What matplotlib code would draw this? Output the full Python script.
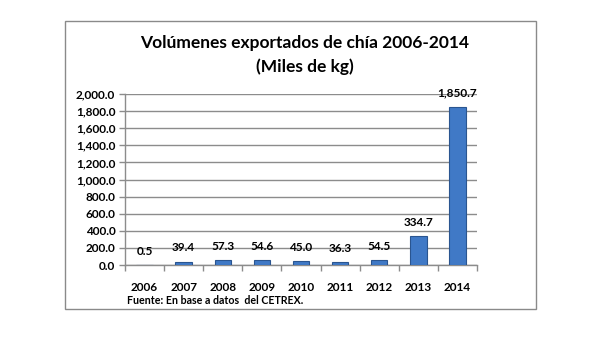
import matplotlib
matplotlib.use("Agg")
import matplotlib.pyplot as plt
from matplotlib.patches import Rectangle
from matplotlib.ticker import FuncFormatter, FixedLocator
import numpy as np

years = ["2006", "2007", "2008", "2009", "2010", "2011", "2012", "2013", "2014"]
values = [0.5, 39.4, 57.3, 54.6, 45.0, 36.3, 54.5, 334.7, 1850.7]
title = "Volúmenes exportados de chía 2006-2014\n(Miles de kg)"
source = "Fuente: En base a datos  del CETREX."

W, H = 609, 352
fig = plt.figure(figsize=(W / 100, H / 100), dpi=100)
fig.patch.set_facecolor("white")
font = "Lato"

# outer frame
fig.patches.append(Rectangle((65 / W, 1 - 309 / H), (536 - 65) / W, (309 - 21) / H,
                             transform=fig.transFigure, fill=False,
                             edgecolor="#8a8a8a", linewidth=1.0))

ax = fig.add_axes([125 / W, 1 - 265 / H, (477 - 125) / W, (265 - 94) / H])
x = np.arange(len(years))
bars = ax.bar(x, values, width=0.42, color="#4079C6", edgecolor="#2A5590", linewidth=0.8, zorder=3)

ax.set_xlim(-0.5, len(years) - 0.5)
ax.set_ylim(0, 2000)
ax.yaxis.set_major_locator(FixedLocator(np.arange(0, 2001, 200)))
ax.yaxis.set_major_formatter(FuncFormatter(lambda v, p: f"{v:,.1f}"))
ax.grid(axis="y", color="#8c8c8c", linewidth=1.0, zorder=0)
ax.set_axisbelow(True)

ax.set_xticks(x)
ax.set_xticklabels(years)
ax.xaxis.set_minor_locator(FixedLocator(np.arange(-0.5, len(years), 1.0)))
ax.tick_params(axis="x", which="major", length=0, pad=12)
ax.tick_params(axis="x", which="minor", length=4, color="#8c8c8c", width=1)
ax.tick_params(axis="y", length=4, color="#8c8c8c", width=1, pad=3)

for lab in ax.get_xticklabels() + ax.get_yticklabels():
    lab.set_fontfamily(font)
    lab.set_fontweight("bold")
    lab.set_fontsize(8.5)

for s in ["top", "right"]:
    ax.spines[s].set_visible(False)
for s in ["left", "bottom"]:
    ax.spines[s].set_color("#8c8c8c")
    ax.spines[s].set_linewidth(1)

for xi, v in zip(x, values):
    ax.annotate(f"{v:,.1f}", (xi, v), xytext=(0, 6), textcoords="offset points",
                ha="center", va="bottom", fontsize=8.5, fontweight="bold",
                fontfamily=font, zorder=4)

fig.text(305 / W, 1 - 55 / H, title, ha="center", va="center", fontsize=12.5,
         fontweight="bold", fontfamily=font, linespacing=1.5)
fig.text(127 / W, 1 - 301 / H, source, ha="left", va="center", fontsize=7.7,
         fontweight="bold", fontfamily=font)

fig.savefig("out.png", dpi=100)
